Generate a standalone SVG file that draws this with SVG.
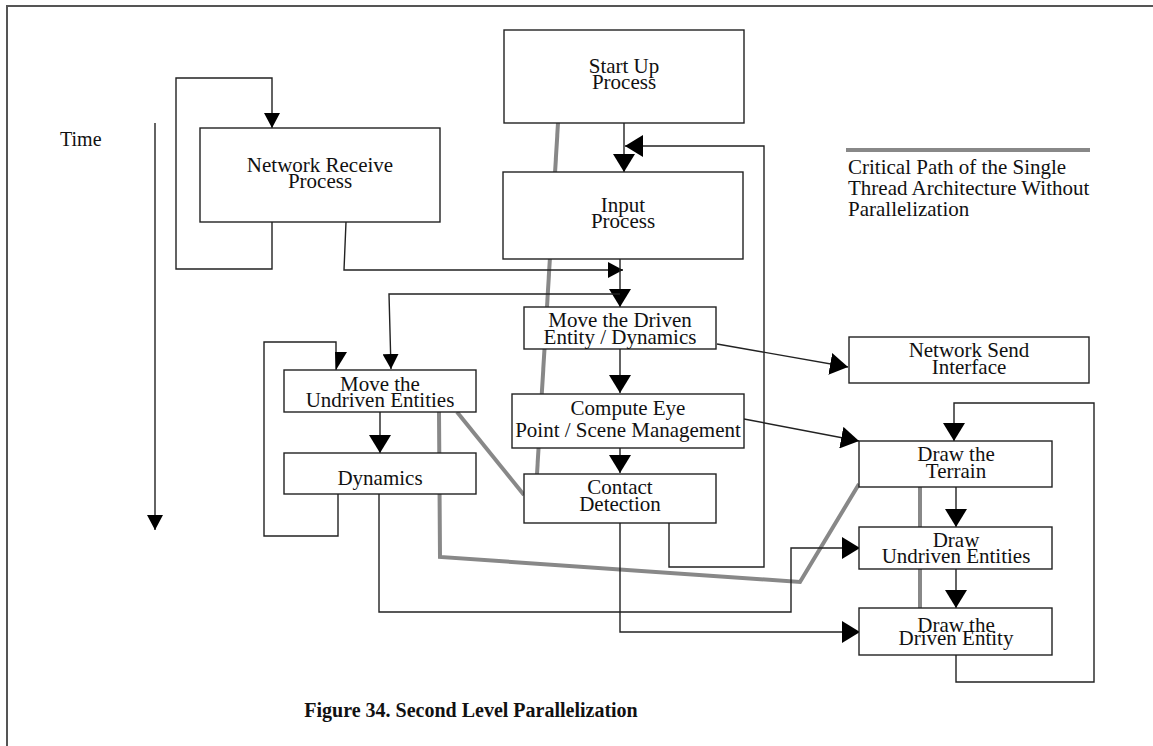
<svg xmlns="http://www.w3.org/2000/svg" width="1153" height="746" viewBox="0 0 1153 746">
  <style>
    .frame { fill: none; stroke: #555; stroke-width: 2; }
    .box { fill: #fff; stroke: #222; stroke-width: 1.4; }
    .lbl { font-family: "Liberation Serif", "Times New Roman", serif; font-size: 21px; fill: #111; text-anchor: middle; }
    .note { font-family: "Liberation Serif", "Times New Roman", serif; font-size: 21px; fill: #111; }
    .cap { font-family: "Liberation Serif", "Times New Roman", serif; font-size: 20px; font-weight: bold; fill: #111; text-anchor: middle; }
    .wire { fill: none; stroke: #222; stroke-width: 1.4; }
    .crit { fill: none; stroke: #888; stroke-width: 4; }
  </style>
  <defs>
    <marker id="big" viewBox="0 0 18 22" refX="18" refY="11" markerWidth="18" markerHeight="22" orient="auto" markerUnits="userSpaceOnUse">
      <path d="M0,0 L18,11 L0,22 z" fill="#000"/>
    </marker>
    <marker id="small" viewBox="0 0 15 16" refX="15" refY="8" markerWidth="15" markerHeight="16" orient="auto" markerUnits="userSpaceOnUse">
      <path d="M0,0 L15,8 L0,16 z" fill="#000"/>
    </marker>
  </defs>

  <rect width="1153" height="746" fill="#fff"/>
  <path class="frame" d="M7,746 V6 H1153"/>

  <!-- critical path of the single-thread architecture (drawn beneath the boxes) -->
  <g id="critical-path">
    <path class="crit" d="M558,123 L537,474"/>
    <path class="crit" d="M457,412 L524,495"/>
    <path class="crit" d="M439,412 L440,557 L800,582 L859,484"/>
    <path class="crit" d="M920,487 V608"/>
  </g>

  <!-- connectors -->
  <g id="connectors">
    <path class="wire" d="M155,123 V530" marker-end="url(#small)"/>
    <path class="wire" d="M624,123 V172" marker-end="url(#big)"/>
    <path class="wire" d="M669,523 V567 H764 V146 H625" marker-end="url(#big)"/>
    <path class="wire" d="M272,222 V269 H176 V78 H272 V128" marker-end="url(#small)"/>
    <path class="wire" d="M346,222 L344,270 H623" marker-end="url(#small)"/>
    <path class="wire" d="M620,259 V307" marker-end="url(#big)"/>
    <path class="wire" d="M620,294 H389 L391,369" marker-end="url(#small)"/>
    <path class="wire" d="M620,349 V393" marker-end="url(#big)"/>
    <path class="wire" d="M620,448 V473" marker-end="url(#big)"/>
    <path class="wire" d="M717,344 L848,367" marker-end="url(#big)"/>
    <path class="wire" d="M744,419 L859,441" marker-end="url(#big)"/>
    <path class="wire" d="M380,412 V453" marker-end="url(#big)"/>
    <path class="wire" d="M338,494 V536 H264 V342 H336 V370"/>
    <polygon points="335,352 347,352 336,370" fill="#000"/>
    <path class="wire" d="M379,494 V612 H791 V548 H860" marker-end="url(#big)"/>
    <path class="wire" d="M620,523 V632 H860" marker-end="url(#big)"/>
    <path class="wire" d="M956,487 V527" marker-end="url(#big)"/>
    <path class="wire" d="M956,569 V608" marker-end="url(#big)"/>
    <path class="wire" d="M956,655 V682 H1094 V403 H954 V441" marker-end="url(#big)"/>
  </g>

  <text class="note" x="60" y="146" style="font-size:20px">Time</text>

  <g id="start-up">
    <rect class="box" x="504" y="30" width="240" height="93"/>
    <text class="lbl" x="624" y="73">Start Up</text>
    <text class="lbl" x="624" y="89">Process</text>
  </g>
  <g id="input">
    <rect class="box" x="503" y="172" width="240" height="87"/>
    <text class="lbl" x="623" y="212">Input</text>
    <text class="lbl" x="623" y="228">Process</text>
  </g>
  <g id="network-receive">
    <rect class="box" x="200" y="128" width="240" height="94"/>
    <text class="lbl" x="320" y="172">Network Receive</text>
    <text class="lbl" x="320" y="188">Process</text>
  </g>
  <g id="move-driven">
    <rect class="box" x="524" y="307" width="192" height="42"/>
    <text class="lbl" x="620" y="327">Move the Driven</text>
    <text class="lbl" x="620" y="344">Entity / Dynamics</text>
  </g>
  <g id="compute-eye">
    <rect class="box" x="512" y="394" width="232" height="54"/>
    <text class="lbl" x="628" y="415">Compute Eye</text>
    <text class="lbl" x="628" y="437">Point / Scene Management</text>
  </g>
  <g id="contact">
    <rect class="box" x="524" y="474" width="192" height="49"/>
    <text class="lbl" x="620" y="494">Contact</text>
    <text class="lbl" x="620" y="511">Detection</text>
  </g>
  <g id="move-undriven">
    <rect class="box" x="284" y="370" width="192" height="42"/>
    <text class="lbl" x="380" y="391">Move the</text>
    <text class="lbl" x="380" y="407">Undriven Entities</text>
  </g>
  <g id="dynamics">
    <rect class="box" x="284" y="453" width="192" height="41"/>
    <text class="lbl" x="380" y="485">Dynamics</text>
  </g>
  <g id="network-send">
    <rect class="box" x="849" y="337" width="240" height="46"/>
    <text class="lbl" x="969" y="357">Network Send</text>
    <text class="lbl" x="969" y="374">Interface</text>
  </g>
  <g id="draw-terrain">
    <rect class="box" x="859" y="441" width="193" height="46"/>
    <text class="lbl" x="956" y="461">Draw the</text>
    <text class="lbl" x="956" y="478">Terrain</text>
  </g>
  <g id="draw-undriven">
    <rect class="box" x="859" y="527" width="193" height="42"/>
    <text class="lbl" x="956" y="547">Draw</text>
    <text class="lbl" x="956" y="563">Undriven Entities</text>
  </g>
  <g id="draw-driven">
    <rect class="box" x="859" y="608" width="193" height="47"/>
    <text class="lbl" x="956" y="632">Draw the</text>
    <text class="lbl" x="956" y="645">Driven Entity</text>
  </g>

  <g id="legend">
    <path class="crit" d="M846,150 H1090"/>
    <text class="note" x="848" y="174">Critical Path of the Single</text>
    <text class="note" x="848" y="195">Thread Architecture Without</text>
    <text class="note" x="848" y="216">Parallelization</text>
  </g>

  <text class="cap" x="471" y="717">Figure 34. Second Level Parallelization</text>
</svg>
